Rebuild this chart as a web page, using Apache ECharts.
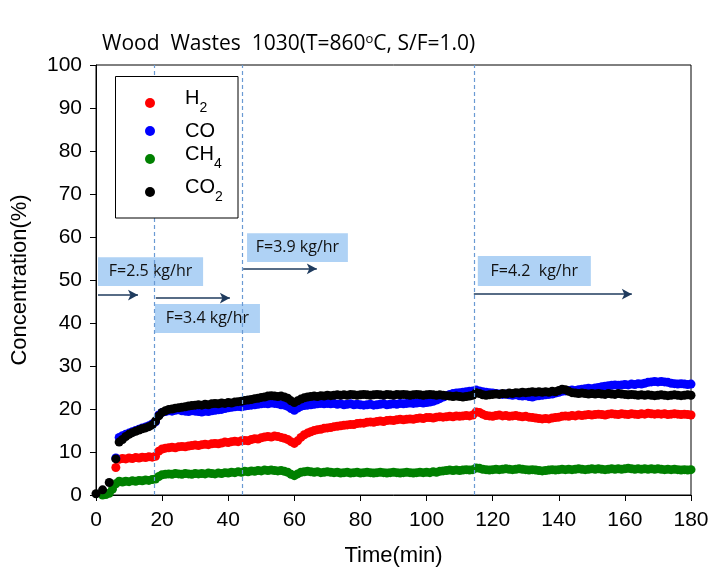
<!DOCTYPE html>
<html>
<head>
<meta charset="utf-8">
<script src="https://cdn.jsdelivr.net/npm/echarts@6/dist/echarts.min.js"></script>
<style>html,body{margin:0;padding:0;background:#fff}#c{width:726px;height:579px}</style>
</head>
<body>
<div id="c"></div>
<script>
// ---- data (minutes, %) ----
const time = [0,1,2,3,4,5,6,7,8,9,10,11,12,13,14,15,16,17,18,19,20,21,22,23,24,25,26,27,28,29,30,
31,32,33,34,35,36,37,38,39,40,41,42,43,44,45,46,47,48,49,50,51,52,53,54,55,56,57,58,59,60,
61,62,63,64,65,66,67,68,69,70,71,72,73,74,75,76,77,78,79,80,81,82,83,84,85,86,87,88,89,90,
91,92,93,94,95,96,97,98,99,100,101,102,103,104,105,106,107,108,109,110,111,112,113,114,115,116,117,118,119,120,
121,122,123,124,125,126,127,128,129,130,131,132,133,134,135,136,137,138,139,140,141,142,143,144,145,146,147,148,149,150,
151,152,153,154,155,156,157,158,159,160,161,162,163,164,165,166,167,168,169,170,171,172,173,174,175,176,177,178,179,180];

const h2 = [null,null,null,null,null,null,6.4,
8.3,8.5,8.4,8.6,8.5,8.7,8.6,8.8,8.7,8.9,8.8,9.0,
10.2,10.7,10.9,11.0,11.1,11.0,11.2,11.3,11.2,11.4,11.5,11.6,
11.5,11.7,11.8,11.7,11.9,12.0,11.9,12.1,12.3,12.2,
12.4,12.5,12.4,12.6,12.7,12.6,12.9,13.1,13.0,13.3,
13.5,13.6,13.5,13.7,13.6,13.4,13.2,12.9,12.4,12.0,
12.6,13.4,14.0,14.4,14.7,15.0,15.2,15.3,15.5,15.6,
15.7,15.9,16.0,16.1,16.2,16.3,16.4,16.4,16.6,16.7,
16.7,16.9,17.0,16.9,17.1,17.2,17.1,17.3,17.4,17.3,
17.5,17.6,17.5,17.6,17.7,17.6,17.8,17.9,17.8,18.0,
18.0,17.9,18.1,18.2,18.1,18.2,18.3,18.2,18.4,18.3,
18.4,18.5,18.4,18.6,19.3,19.2,18.8,18.5,18.4,18.3,
18.5,18.6,18.4,18.5,18.3,18.4,18.5,18.3,18.2,18.3,
18.1,18.0,17.9,17.8,17.7,17.8,17.7,17.9,18.0,18.1,
18.3,18.4,18.3,18.5,18.4,18.6,18.5,18.6,18.7,18.6,
18.7,18.8,18.7,18.6,18.8,18.9,18.8,18.7,18.9,18.8,
18.7,18.9,18.8,18.7,18.9,18.8,19.0,18.9,18.8,18.9,
18.8,18.9,18.7,18.8,18.9,18.8,18.7,18.8,18.7,18.6];

const co = [null,null,null,null,null,null,8.6,
13.4,13.8,14.1,14.4,14.7,15.0,15.3,15.6,15.8,16.1,16.5,17.0,
18.6,19.2,19.4,19.6,19.5,19.7,19.8,19.6,19.5,19.4,19.6,19.5,
19.4,19.3,19.5,19.4,19.6,19.7,19.8,19.9,20.1,20.3,
20.4,20.5,20.6,20.5,20.7,20.8,20.9,21.0,21.1,21.2,
21.3,21.2,21.4,21.3,21.2,21.0,20.9,20.6,20.1,19.7,
20.2,20.6,20.8,20.9,21.0,21.1,21.2,21.3,21.2,21.3,
21.2,21.3,21.1,21.2,21.0,21.1,21.2,21.0,21.1,21.0,
20.9,21.0,21.1,20.9,21.0,21.1,21.2,21.0,21.1,21.2,
21.1,21.3,21.2,21.3,21.4,21.3,21.4,21.5,21.4,21.5,
21.6,21.8,22.1,22.4,22.8,23.1,23.4,23.6,23.7,23.8,
23.9,24.0,24.1,24.2,24.4,24.2,24.0,23.9,23.8,23.7,
23.6,23.5,23.4,23.5,23.3,23.2,23.3,23.1,23.0,23.1,
22.9,22.8,23.0,23.1,23.2,23.3,23.4,23.5,23.7,23.9,
24.1,24.2,24.3,24.4,24.3,24.5,24.6,24.7,24.8,24.7,
24.9,25.0,25.2,25.3,25.4,25.5,25.6,25.5,25.6,25.7,
25.6,25.8,25.7,25.9,25.8,26.0,26.2,26.3,26.4,26.3,
26.4,26.3,26.2,26.0,25.9,25.8,25.9,25.8,25.7,25.8];

const ch4 = [null,null,0.0,0.1,0.4,1.4,2.6,
3.2,3.0,3.2,3.1,3.3,3.2,3.4,3.3,3.5,3.4,3.6,3.7,
4.3,4.7,4.8,4.9,4.8,5.0,4.9,4.8,5.0,4.9,4.8,5.0,
4.9,5.0,4.9,5.1,5.0,4.9,5.1,5.0,5.2,5.1,
5.3,5.2,5.4,5.3,5.5,5.4,5.6,5.5,5.7,5.6,
5.8,5.7,5.8,5.7,5.6,5.7,5.5,5.3,4.8,4.5,
4.9,5.3,5.4,5.5,5.4,5.3,5.4,5.2,5.3,5.4,
5.3,5.2,5.3,5.1,5.2,5.3,5.1,5.2,5.3,5.1,
5.2,5.3,5.2,5.1,5.2,5.3,5.2,5.1,5.2,5.3,
5.2,5.1,5.2,5.3,5.2,5.1,5.2,5.3,5.2,5.3,
5.2,5.4,5.3,5.5,5.6,5.7,5.8,5.7,5.8,5.7,
5.8,5.9,5.8,5.9,6.3,6.2,6.0,5.9,5.8,5.9,
6.0,5.9,6.0,6.1,6.0,5.9,6.0,6.1,6.0,5.9,
5.8,5.9,5.8,5.7,5.6,5.7,5.8,5.9,5.8,5.9,
6.0,5.9,6.0,5.9,6.0,6.1,6.0,5.9,6.0,6.1,
6.0,6.1,6.0,5.9,6.0,6.1,6.0,6.1,6.0,6.1,
6.2,6.1,6.0,6.1,6.0,6.1,6.0,6.1,6.0,6.1,
6.0,5.9,6.0,5.9,6.0,5.9,5.8,5.9,5.8,5.9];

const co2 = [0.3,null,1.2,null,2.9,null,8.4,
12.3,12.9,13.6,14.1,14.5,14.8,15.1,15.4,15.6,15.9,16.3,17.2,
18.4,19.2,19.6,19.9,20.0,20.2,20.3,20.4,20.5,20.7,20.8,20.9,
21.0,20.9,21.1,21.0,21.2,21.3,21.2,21.4,21.3,21.5,
21.4,21.6,21.7,21.8,22.0,22.1,22.2,22.4,22.5,22.7,
22.8,23.0,23.1,23.0,22.9,23.0,22.8,22.5,21.9,21.5,
21.9,22.3,22.6,22.8,22.9,23.0,22.9,23.1,23.0,23.2,
23.1,23.2,23.3,23.2,23.3,23.2,23.4,23.3,23.2,23.3,
23.4,23.3,23.2,23.3,23.4,23.3,23.2,23.4,23.3,23.2,
23.4,23.3,23.4,23.3,23.2,23.3,23.4,23.3,23.2,23.3,
23.4,23.3,23.2,23.3,23.2,23.1,23.0,22.9,23.0,22.9,
22.8,22.9,23.0,23.2,23.8,23.6,23.3,23.2,23.3,23.4,
23.5,23.4,23.6,23.5,23.7,23.6,23.8,23.7,23.9,23.8,
23.9,24.0,23.9,24.0,23.9,24.0,23.9,24.1,24.0,24.3,
24.6,24.5,24.1,23.8,23.7,23.6,23.7,23.6,23.5,23.6,
23.5,23.6,23.5,23.4,23.6,23.5,23.4,23.6,23.5,23.4,
23.3,23.4,23.3,23.2,23.3,23.2,23.3,23.2,23.1,23.2,
23.3,23.2,23.1,23.2,23.3,23.2,23.1,23.2,23.3,23.2];

const seriesNames = ['H2', 'CO', 'CH4', 'CO2'];
const feedLabels = ['F=2.5 kg/hr', 'F=3.4 kg/hr', 'F=3.9 kg/hr', 'F=4.2  kg/hr'];
const feedChangeTimes = [17.6, 44.1, 114.3];
const xTicks = {min: 0, max: 180, step: 20};
const yTicks = {min: 0, max: 100, step: 10};

function pairs(vals) {
  const out = [];
  vals.forEach((v, i) => { if (v !== null) out.push([time[i], v]); });
  return out;
}

const tickFont = 'Liberation Sans, Arial, sans-serif';
const legendFont = 'Liberation Sans, Arial, sans-serif';
const boxFont = 'Open Sans, Noto Sans, sans-serif';

const chart = echarts.init(document.getElementById('c'), null, {renderer: 'canvas'});

const colors = ['#ff0000', '#0000ff', '#008000', '#000000'];
const values = [h2, co, ch4, co2];

const series = seriesNames.map((n, k) => ({
  name: n,
  type: 'scatter',
  symbol: 'circle',
  symbolSize: 9,
  itemStyle: {color: colors[k], opacity: 1},
  emphasis: {disabled: true},
  data: pairs(values[k])
}));

// annotation boxes (data coords) on H2 series
series[0].markArea = {
  silent: true,
  itemStyle: {color: '#afd2f5', borderWidth: 0},
  label: {show: true, position: 'inside', color: '#111', fontFamily: boxFont, fontSize: 16},
  emphasis: {disabled: true},
  data: [
    [{name: feedLabels[0], coord: [0.6, 55.3]}, {coord: [32.4, 48.6]}],
    [{name: feedLabels[1], coord: [17.8, 44.4]}, {coord: [49.6, 37.7]}],
    [{name: feedLabels[2], coord: [45.7, 60.9]}, {coord: [76.2, 54.2]}],
    [{name: feedLabels[3], coord: [115.5, 55.6]}, {coord: [149.7, 48.6]}]
  ]
};
// arrows
series[0].markLine = {
  silent: true,
  symbol: ['none', 'arrow'],
  symbolSize: [8, 10],
  lineStyle: {color: '#1f3b5e', width: 1.5, type: 'solid'},
  label: {show: false},
  emphasis: {disabled: true},
  data: [
    [{coord: [0.6, 46.5]}, {coord: [12.7, 46.5]}],
    [{coord: [18.1, 45.8]}, {coord: [40.5, 45.8]}],
    [{coord: [44.5, 52.6]}, {coord: [66.8, 52.6]}],
    [{coord: [114.3, 46.7]}, {coord: [162.1, 46.7]}]
  ]
};
// feed-change dashed lines
series[3].markLine = {
  silent: true,
  symbol: ['none', 'none'],
  lineStyle: {color: '#6a9ad3', width: 1.2, type: [4, 3]},
  label: {show: false},
  emphasis: {disabled: true},
  data: feedChangeTimes.map(t => ({xAxis: t}))
};

const option = {
  animation: false,
  backgroundColor: '#ffffff',
  title: {
    text: '{a|Wood  Wastes  1030(T=860}{b|o}{a|C, S/F=1.0)}',
    left: 97, top: 27,
    textStyle: {
      fontWeight: 'normal',
      rich: {
        a: {fontFamily: boxFont, fontSize: 21, fontWeight: 'normal', color: '#000', lineHeight: 24},
        b: {fontFamily: boxFont, fontSize: 13, fontWeight: 'normal', color: '#000', lineHeight: 14, padding: [0, 0, 9, 0]}
      }
    }
  },
  grid: {left: 96, top: 65, width: 595, height: 430, show: true, borderColor: '#000', borderWidth: 1, backgroundColor: 'transparent'},
  xAxis: {
    type: 'value', min: xTicks.min, max: xTicks.max, interval: xTicks.step,
    name: 'Time(min)', nameLocation: 'middle', nameGap: 50,
    nameTextStyle: {fontFamily: tickFont, fontSize: 22, color: '#000'},
    axisLine: {show: true, lineStyle: {color: '#000', width: 1}},
    axisTick: {show: true, inside: false, length: 6, lineStyle: {color: '#000'}},
    axisLabel: {fontFamily: tickFont, fontSize: 21, color: '#000', margin: 15},
    splitLine: {show: false}
  },
  yAxis: {
    type: 'value', min: yTicks.min, max: yTicks.max, interval: yTicks.step,
    name: 'Concentration(%)', nameLocation: 'middle', nameGap: 65,
    nameTextStyle: {fontFamily: tickFont, fontSize: 22, color: '#000'},
    axisLine: {show: true, lineStyle: {color: '#000', width: 1}},
    axisTick: {show: true, inside: false, length: 6, lineStyle: {color: '#000'}},
    axisLabel: {fontFamily: tickFont, fontSize: 21, color: '#000', margin: 14},
    splitLine: {show: false}
  },
  legend: {
    data: seriesNames,
    orient: 'vertical',
    left: 145, top: 88,
    padding: 0,
    itemWidth: 60, itemHeight: 10, itemGap: 3,
    icon: 'circle',
    z: 20,
    selectedMode: false,
    formatter: function (name) {
      const m = name.match(/^([A-Z]+)(\d)$/);
      if (m) return '{n|' + m[1] + '}{s|' + m[2] + '}';
      return '{m|' + name + '}';
    },
    textStyle: {
      color: '#000',
      rich: {
        m: {fontFamily: legendFont, fontSize: 20, lineHeight: 20, color: '#000'},
        n: {fontFamily: legendFont, fontSize: 20, lineHeight: 20, padding: [0, 0, 10, 0], color: '#000'},
        s: {fontFamily: legendFont, fontSize: 14, lineHeight: 14, padding: [13, 0, 3, 0], color: '#000'}
      }
    }
  },
  graphic: [{
    type: 'rect', z: 10,
    shape: {x: 115.5, y: 76.5, width: 122.5, height: 141.5},
    style: {fill: '#fff', stroke: '#000', lineWidth: 1}
  }],
  series: series
};
chart.setOption(option);
</script>
</body>
</html>
